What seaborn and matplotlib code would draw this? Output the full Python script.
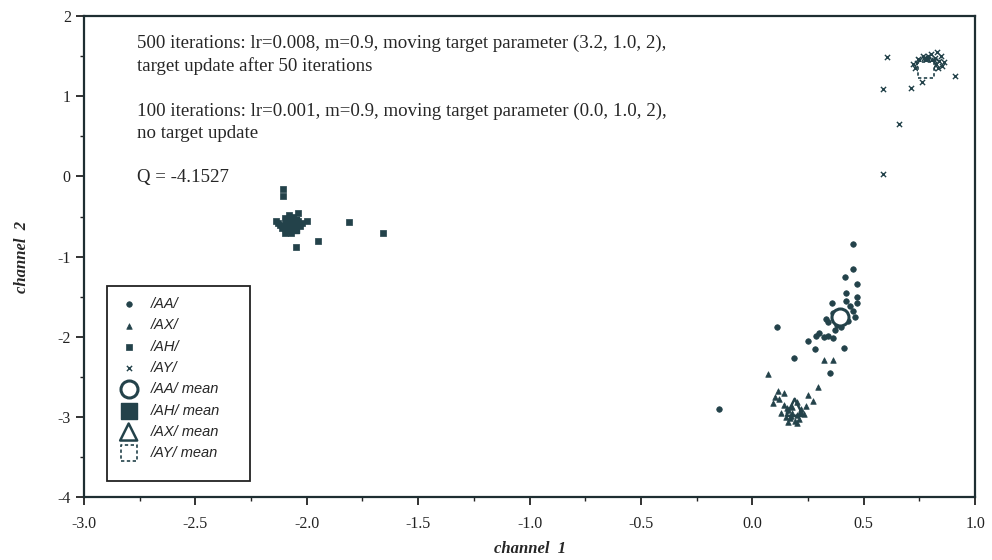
import numpy as np
import pandas as pd
import matplotlib
matplotlib.use("Agg")
import matplotlib.pyplot as plt
import seaborn as sns
from matplotlib.ticker import MultipleLocator, FormatStrFormatter
from matplotlib.patches import Rectangle

# ---- data ----
aa_x = [0.452, 0.452, 0.416, 0.47, 0.42, 0.47, 0.358, 0.11, 0.286, 0.34, 0.28, 0.41, 0.187, 0.35, -0.15,
        0.34, 0.36, 0.44, 0.45, 0.46, 0.38, 0.40, 0.33, 0.30, 0.32, 0.37, 0.43, 0.25, 0.42, 0.47, 0.36]
aa_y = [-0.84, -1.16, -1.26, -1.34, -1.46, -1.58, -1.58, -1.88, -1.99, -1.99, -2.15, -2.14, -2.27, -2.45, -2.90,
        -1.82, -1.70, -1.62, -1.68, -1.75, -1.85, -1.88, -1.78, -1.95, -2.00, -1.92, -1.80, -2.05, -1.55, -1.50, -2.02]

ax_x = [0.07, 0.115, 0.093, 0.295, 0.25, 0.32, 0.36, 0.12, 0.14, 0.16, 0.18, 0.20, 0.22, 0.17, 0.19, 0.15,
        0.21, 0.24, 0.13, 0.23, 0.18, 0.16, 0.20, 0.27, 0.10, 0.14, 0.20, 0.175, 0.215, 0.155]
ax_y = [-2.47, -2.68, -2.83, -2.63, -2.73, -2.29, -2.29, -2.78, -2.85, -2.92, -2.95, -2.98, -2.90, -3.02, -3.05, -3.00,
        -3.03, -2.86, -2.95, -2.97, -2.88, -3.06, -2.82, -2.80, -2.75, -2.70, -3.08, -2.99, -2.94, -2.89]

ah_x = [-2.107, -2.107, -1.81, -1.66, -1.95, -2.05, -2.00, -2.14, -2.12, -2.10, -2.08, -2.06, -2.05, -2.09,
        -2.07, -2.03, -2.11, -2.04, -2.02, -2.13, -2.06, -2.08, -2.10, -2.04]
ah_y = [-0.15, -0.24, -0.57, -0.71, -0.81, -0.88, -0.55, -0.55, -0.60, -0.52, -0.48, -0.50, -0.60, -0.66,
        -0.70, -0.62, -0.64, -0.55, -0.58, -0.58, -0.66, -0.56, -0.70, -0.45]

ay_x = [0.605, 0.587, 0.713, 0.76, 0.91, 0.66, 0.587, 0.74, 0.76, 0.78, 0.80, 0.82, 0.84, 0.79, 0.81, 0.77,
        0.73, 0.85, 0.83, 0.75, 0.78, 0.86, 0.80, 0.72, 0.745, 0.765, 0.785, 0.805, 0.825, 0.845, 0.755,
        0.775, 0.795, 0.815, 0.835, 0.77, 0.79, 0.81]
ay_y = [1.49, 1.09, 1.11, 1.18, 1.26, 0.66, 0.03, 1.42, 1.38, 1.45, 1.40, 1.48, 1.44, 1.50, 1.35, 1.32,
        1.36, 1.38, 1.55, 1.46, 1.29, 1.43, 1.53, 1.40, 1.47, 1.51, 1.42, 1.45, 1.41, 1.50, 1.37,
        1.44, 1.39, 1.46, 1.35, 1.48, 1.47, 1.43]

mean_labels = ["/AA/ mean", "/AH/ mean", "/AX/ mean", "/AY/ mean"]
mean_x = [0.394, -2.07, 0.19, 0.78]
mean_y = [-1.75, -0.60, -2.88, 1.33]

x_ticks = [-3.0, -2.5, -2.0, -1.5, -1.0, -0.5, 0.0, 0.5, 1.0]
y_ticks = [2, 1, 0, -1, -2, -3, -4]

annot_lines = [
    "500 iterations: lr=0.008, m=0.9, moving target parameter (3.2, 1.0, 2),\ntarget update after 50 iterations",
    "100 iterations: lr=0.001, m=0.9, moving target parameter (0.0, 1.0, 2),\nno target update",
    "Q = -4.1527",
]

# ---- style ----
sns.set_theme(style="white")
plt.rcParams["font.family"] = ["Liberation Serif", "DejaVu Serif"]
plt.rcParams["axes.unicode_minus"] = False

C = "#23424a"

fig = plt.figure(figsize=(9.92, 5.6), dpi=100)
ax = fig.add_axes([0.0847, 0.1125, 0.8983, 0.8585])

sns.scatterplot(x=aa_x, y=aa_y, ax=ax, marker="o", s=16, color=C, edgecolor=C, linewidth=0.5, label="/AA/")
sns.scatterplot(x=ax_x, y=ax_y, ax=ax, marker="^", s=16, color=C, edgecolor=C, linewidth=0.5, label="/AX/")
sns.scatterplot(x=ah_x, y=ah_y, ax=ax, marker="s", s=18, color=C, edgecolor=C, linewidth=0.5, label="/AH/")
sns.scatterplot(x=ay_x, y=ay_y, ax=ax, marker="x", s=14, color=C, linewidth=1.0, label="/AY/")

sns.scatterplot(x=[mean_x[0]], y=[mean_y[0]], ax=ax, marker="o", s=150, color="white",
                edgecolor=C, linewidth=2.2, label=mean_labels[0], zorder=5)
sns.scatterplot(x=[mean_x[1]], y=[mean_y[1]], ax=ax, marker="s", s=130, color=C,
                edgecolor=C, linewidth=1.0, label=mean_labels[1], zorder=5)
sns.scatterplot(x=[mean_x[2]], y=[mean_y[2]], ax=ax, marker="^", s=150, color="none",
                edgecolor=C, linewidth=1.8, label=mean_labels[2], zorder=5)
sns.scatterplot(x=[mean_x[3]], y=[mean_y[3]], ax=ax, marker="s", s=130, color="white",
                edgecolor=C, linewidth=1.2, label=mean_labels[3], zorder=5)
ax.collections[-1].set_linestyle((0, (2, 1.5)))

ax.set_xlim(-3.0, 1.0)
ax.set_ylim(-4, 2)
ax.set_xticks(x_ticks)
ax.set_yticks(y_ticks)
ax.xaxis.set_major_formatter(FormatStrFormatter("%.1f"))
ax.yaxis.set_major_formatter(FormatStrFormatter("%d"))
ax.xaxis.set_minor_locator(MultipleLocator(0.25))
ax.yaxis.set_minor_locator(MultipleLocator(0.5))
ax.tick_params(axis="both", which="major", direction="out", length=6, width=1.3, colors="#222222",
               labelsize=11.5, bottom=True, left=True)
ax.tick_params(axis="both", which="minor", direction="out", length=3, width=1.0, colors="#222222",
               bottom=True, left=True)
ax.tick_params(axis="x", pad=8)
for sp in ax.spines.values():
    sp.set_color("#1e2e32")
    sp.set_linewidth(1.6)

ax.set_xlabel("channel  1", fontsize=12, fontweight="bold", fontstyle="italic", labelpad=6)
ax.set_ylabel("channel  2", fontsize=12, fontweight="bold", fontstyle="italic", labelpad=20)

ax.text(-2.76, 1.77, annot_lines[0], fontsize=13.6, va="top", ha="left", linespacing=1.38)
ax.text(-2.76, 0.922, annot_lines[1], fontsize=13.6, va="top", ha="left", linespacing=1.38)
ax.text(-2.76, 0.095, annot_lines[2], fontsize=13.6, va="top", ha="left")

# legend entries (no frame) + separately drawn box
leg = ax.legend(loc="upper left", bbox_to_anchor=(0.037, 0.4158), borderaxespad=0, frameon=False,
                labelspacing=0.5, handletextpad=0.7, handlelength=1.6, borderpad=0,
                prop={"family": "Liberation Sans", "style": "italic", "size": 10.5})
ax.add_patch(Rectangle((0.0258, 0.0333), 0.1605, 0.4054, transform=ax.transAxes, fill=False,
                       edgecolor="#222222", linewidth=1.3, zorder=6))

fig.savefig("out.png", dpi=100)
